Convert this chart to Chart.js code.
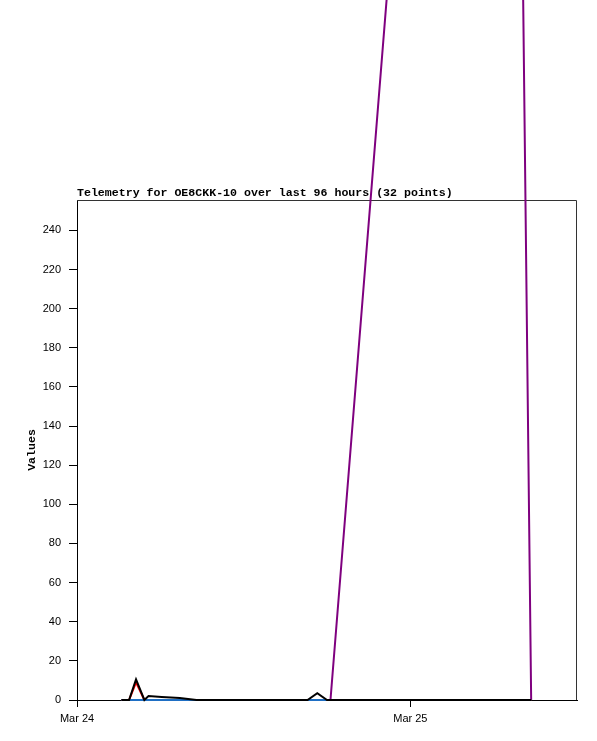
<!DOCTYPE html>
<html>
<head>
<meta charset="utf-8">
<script src="https://cdn.jsdelivr.net/npm/chart.js@4"></script>
<style>
  body { margin: 0; background: #fff; }
  canvas { display: block; }
</style>
</head>
<body>
<canvas id="telemetryChart" width="597" height="741"></canvas>
<script>
// hours after Mar 24 00:00
const hours = [3.2, 3.75, 4.25, 4.85, 5.15, 6.1, 7.4, 8.6, 16.6, 17.3, 18.0, 18.25, 30.9, 32.7];
const blackValues = [0, 0, 10.5, 0, 2, 1.5, 1, 0, 0, 3.5, 0, 0, 0, 0];
const redValues = [0, 0, 9, 0, 0, 0, 0, 0, 0, 0, 0, 0, 0, 0];
const blueValues = [0, 0, 0, 0, 0, 0, 0, 0, 0, 0, 0, 0, 0, 0];
const purpleValues = [0, 0, 0, 0, 0, 0, 0, 0, 0, 0, 0, 0, 1120, 0];

const xTickHours = [0, 24];
const xTickLabels = ['Mar 24', 'Mar 25'];

const chartTitle = 'Telemetry for OE8CKK-10 over last 96 hours (32 points)';
const yAxisTitle = 'Values';

function toPoints(values) {
  return values.map((v, i) => ({ x: hours[i], y: v }));
}

// lower order = drawn on top
function makeDataset(label, values, color, order) {
  return {
    label: label,
    data: toPoints(values),
    borderColor: color,
    backgroundColor: color,
    borderWidth: 2,
    pointRadius: 0,
    tension: 0,
    clip: false,
    order: order
  };
}

const frameAndTitles = {
  id: 'frameAndTitles',
  beforeDatasetsDraw(chart) {
    const { ctx, chartArea } = chart;
    ctx.save();
    ctx.strokeStyle = '#333';
    ctx.lineWidth = 1;
    ctx.beginPath();
    ctx.moveTo(chartArea.left, chartArea.top + 0.5);
    ctx.lineTo(chartArea.right - 0.5, chartArea.top + 0.5);
    ctx.lineTo(chartArea.right - 0.5, chartArea.bottom);
    ctx.stroke();
    ctx.restore();
  },
  afterDraw(chart) {
    const { ctx, chartArea } = chart;
    ctx.save();
    ctx.fillStyle = '#000';
    ctx.font = "bold 11.6px 'Liberation Mono', 'DejaVu Sans Mono', monospace";
    ctx.textBaseline = 'alphabetic';
    ctx.textAlign = 'left';
    ctx.fillText(chartTitle, chartArea.left, chartArea.top - 4);

    ctx.translate(32, (chartArea.top + chartArea.bottom) / 2);
    ctx.rotate(-Math.PI / 2);
    ctx.textAlign = 'center';
    ctx.textBaseline = 'middle';
    ctx.fillText(yAxisTitle, 0, 0);
    ctx.restore();
  }
};

const tickFont = { family: "'Liberation Sans', Arial, sans-serif", size: 11 };

new Chart(document.getElementById('telemetryChart').getContext('2d'), {
  type: 'line',
  data: {
    datasets: [
      makeDataset('black', blackValues, '#000000', 0),
      makeDataset('blue', blueValues, '#1f6fc4', 1),
      makeDataset('red', redValues, '#ff0000', 2),
      makeDataset('purple', purpleValues, '#7f007f', 3)
    ]
  },
  options: {
    responsive: false,
    animation: false,
    layout: { padding: { top: 200, right: 20, left: 0, bottom: 0 } },
    plugins: {
      legend: { display: false },
      title: { display: false },
      tooltip: { enabled: false }
    },
    scales: {
      x: {
        type: 'linear',
        min: 0,
        max: 36,
        afterBuildTicks: scale => {
          scale.ticks = xTickHours.map(h => ({ value: h }));
        },
        afterFit: scale => { scale.height = 41; },
        ticks: {
          color: '#000',
          font: tickFont,
          padding: 5,
          maxRotation: 0,
          callback: value => xTickLabels[xTickHours.indexOf(value)]
        },
        grid: { drawOnChartArea: false, drawTicks: true, tickLength: 7, color: '#000' },
        border: { color: '#000', width: 1 }
      },
      y: {
        min: 0,
        max: 255.5,
        afterFit: scale => { scale.width = 77; },
        ticks: {
          stepSize: 20,
          includeBounds: false,
          color: '#000',
          font: tickFont,
          padding: 8
        },
        grid: { drawOnChartArea: false, drawTicks: true, tickLength: 8, color: '#000' },
        border: { color: '#000', width: 1 }
      }
    }
  },
  plugins: [frameAndTitles]
});
</script>
</body>
</html>
